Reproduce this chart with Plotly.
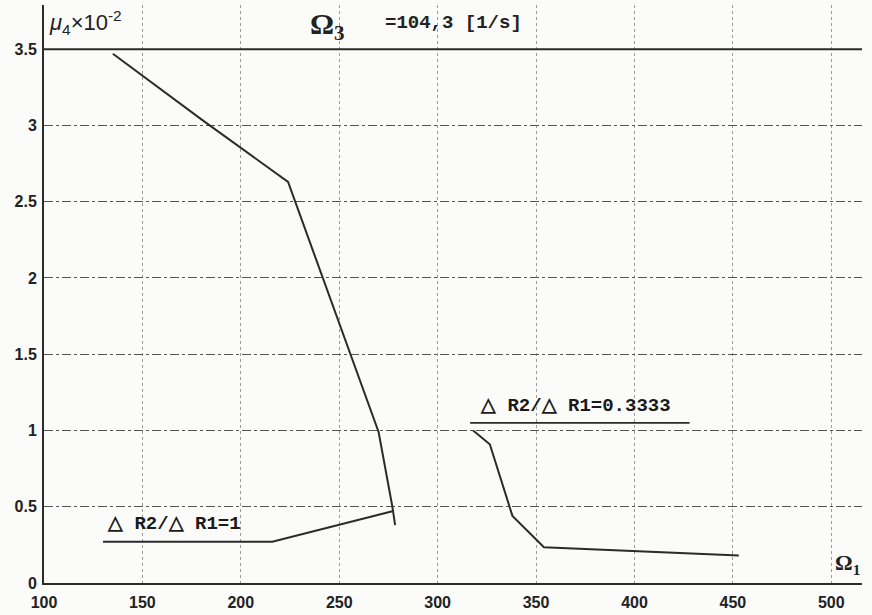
import plotly.graph_objects as go

# Data
curve1_x = [135, 181, 224, 252, 270, 277, 278.4]
curve1_y = [3.47, 3.03, 2.63, 1.64, 0.99, 0.50, 0.38]

curve2_x = [130, 216, 277]
curve2_y = [0.27, 0.27, 0.47]

curve3_x = [318, 326.5, 338, 354, 453]
curve3_y = [1.0, 0.91, 0.44, 0.235, 0.18]

x_ticks = [100, 150, 200, 250, 300, 350, 400, 450, 500]
y_ticks = [0, 0.5, 1, 1.5, 2, 2.5, 3, 3.5]
y_tick_text = ["0", "0.5", "1", "1.5", "2", "2.5", "3", "3.5"]

label1 = "△ R2/△ R1=1"
label2 = "△ R2/△ R1=0.3333"
title_sym = "Ω<sub>3</sub>"
title_value = "=104,3 [1/s]"
y_label = "<i>μ</i><sub>4</sub>×10<sup>-2</sup>"
x_label = "Ω<sub>1</sub>"

line_color = "#2b2b2b"
X_MAX = 515.6
Y_MAX = 3.79

fig = go.Figure()
for xs, ys in [(curve1_x, curve1_y), (curve2_x, curve2_y), (curve3_x, curve3_y)]:
    fig.add_trace(go.Scatter(x=xs, y=ys, mode="lines",
                             line=dict(color=line_color, width=2),
                             showlegend=False, hoverinfo="skip"))

fig.update_layout(
    width=872, height=615,
    margin=dict(l=44, r=10, t=5, b=32, autoexpand=False),
    paper_bgcolor="#fbfbf9", plot_bgcolor="#fbfbf9",
    showlegend=False,
)
tick_font = dict(family="Liberation Sans", size=16, color="#222")
fig.update_xaxes(
    range=[100, X_MAX], tickvals=x_ticks, ticktext=["<b>%d</b>" % v for v in x_ticks],
    showline=True, linecolor=line_color, linewidth=2, automargin=False,
    showgrid=True, gridcolor="#9a9a9a", gridwidth=1, griddash="dot",
    zeroline=False, ticks="", ticklabelstandoff=4,
    tickfont=tick_font,
)
fig.update_yaxes(
    range=[0, Y_MAX], tickvals=y_ticks, ticktext=["<b>%s</b>" % t for t in y_tick_text],
    showline=True, linecolor=line_color, linewidth=2, automargin=False,
    showgrid=True, gridcolor="#555555", gridwidth=1.2, griddash="dashdot",
    zeroline=False, ticks="", ticklabelstandoff=2,
    tickfont=tick_font,
)

# top boundary line at 3.5
fig.add_shape(type="line", xref="x", yref="y", x0=100, x1=X_MAX, y0=y_ticks[-1], y1=y_ticks[-1],
              line=dict(color=line_color, width=2))
# underline of the right label
fig.add_shape(type="line", xref="x", yref="y", x0=316.5, x1=428, y0=1.05, y1=1.05,
              line=dict(color=line_color, width=1.8))

ann_font = dict(family="Liberation Mono", size=19, color="#1a1a1a")
fig.add_annotation(x=131, y=0.30, xref="x", yref="y", text="<b>" + label1 + "</b>",
                   showarrow=False, xanchor="left", yanchor="bottom", font=ann_font)
fig.add_annotation(x=320.5, y=1.075, xref="x", yref="y", text="<b>" + label2 + "</b>",
                   showarrow=False, xanchor="left", yanchor="bottom", font=ann_font)

fig.add_annotation(x=(308 - 44) / 818, y=1.0, xref="paper", yref="paper",
                   text="<b>" + title_sym + "</b>", showarrow=False,
                   xanchor="left", yanchor="top",
                   font=dict(family="Liberation Serif", size=30, color="#222"))
fig.add_annotation(x=(383 - 44) / 818, y=0.992, xref="paper", yref="paper",
                   text="<b>" + title_value + "</b>", showarrow=False,
                   xanchor="left", yanchor="top",
                   font=dict(family="Liberation Mono", size=19, color="#222"))
fig.add_annotation(x=0.004, y=1.0, xref="paper", yref="paper",
                   text=y_label, showarrow=False,
                   xanchor="left", yanchor="top",
                   font=dict(family="Liberation Sans", size=22, color="#222"))
fig.add_annotation(x=1.0, y=0.005, xref="paper", yref="paper",
                   text="<b>" + x_label + "</b>", showarrow=False,
                   xanchor="right", yanchor="bottom",
                   font=dict(family="Liberation Serif", size=22, color="#222"))

fig.write_html("out.html", config={"displayModeBar": False},
               post_script="document.body.style.margin='0';document.body.style.overflow='hidden';")
